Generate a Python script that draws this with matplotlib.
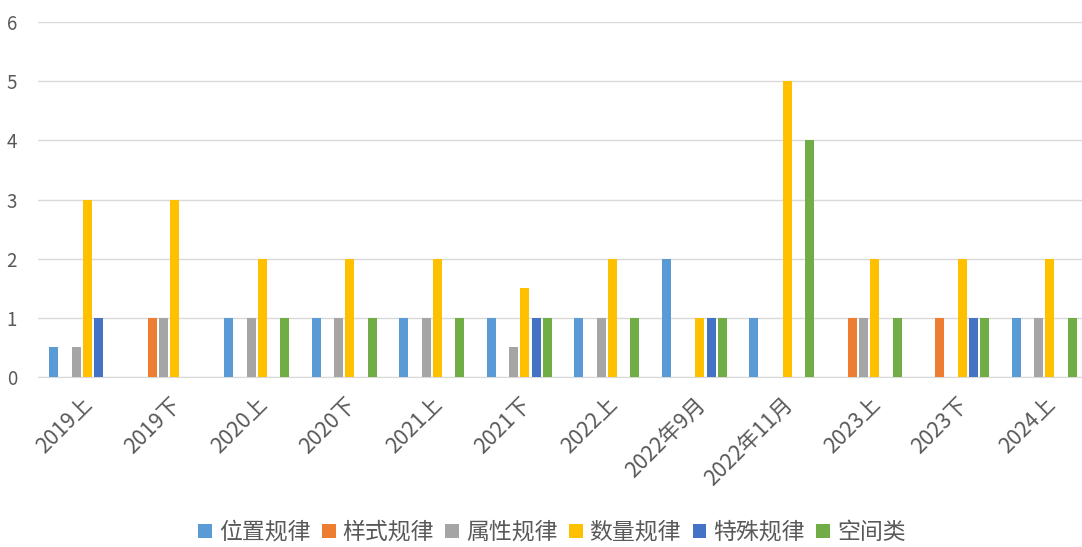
import matplotlib
matplotlib.use("Agg")
import matplotlib.pyplot as plt
import numpy as np

plt.rcParams["font.family"] = ["Noto Sans CJK SC", "DejaVu Sans"]

categories = ["2019上", "2019下", "2020上", "2020下", "2021上", "2021下",
              "2022上", "2022年9月", "2022年11月", "2023上", "2023下", "2024上"]
series_names = ["位置规律", "样式规律", "属性规律", "数量规律", "特殊规律", "空间类"]
weizhi = [0.5, 0, 1, 1, 1, 1, 1, 2, 1, 0, 0, 1]
yangshi = [0, 1, 0, 0, 0, 0, 0, 0, 0, 1, 1, 0]
shuxing = [0.5, 1, 1, 1, 1, 0.5, 1, 0, 0, 1, 0, 1]
shuliang = [3, 3, 2, 2, 2, 1.5, 2, 1, 5, 2, 2, 2]
teshu = [1, 0, 0, 0, 0, 1, 0, 1, 0, 0, 1, 0]
kongjian = [0, 0, 1, 1, 1, 1, 1, 1, 4, 1, 1, 1]
colors = ["#5B9BD5", "#ED7D31", "#A5A5A5", "#FFC000", "#4472C4", "#70AD47"]

W, H = 1082, 547
fig = plt.figure(figsize=(W / 100, H / 100), dpi=100)
ax = fig.add_axes([38 / W, (H - 377) / H, (1088 - 38) / W, (377 - 22) / H])

x = np.arange(len(categories))
step = 0.129
width = 0.103
for i, (vals, name, c) in enumerate(zip(
        [weizhi, yangshi, shuxing, shuliang, teshu, kongjian], series_names, colors)):
    ax.bar(x + (i - 2.5) * step, vals, width=width, color=c, label=name, zorder=3)

ax.set_xlim(-0.5, len(categories) - 0.5)
ax.set_ylim(0, 6)
ax.set_yticks(range(7))
ax.yaxis.grid(True, color="#D9D9D9", linewidth=1, zorder=0)
for s in ("top", "right", "left"):
    ax.spines[s].set_visible(False)
ax.spines["bottom"].set_color("#D9D9D9")
ax.tick_params(axis="both", length=0, colors="#595959")
ax.tick_params(axis="y", pad=15, labelsize=13.5)
ax.set_xticks(x)
ax.set_xticklabels(categories, rotation=45, ha="right", rotation_mode="anchor",
                   fontsize=15.5, fontweight="light")
ax.tick_params(axis="x", pad=12)

fig.legend(loc="lower center", bbox_to_anchor=(0.51, -0.032), ncol=6, frameon=False,
           handlelength=0.6, handleheight=0.6, handletextpad=0.3,
           columnspacing=0.5, labelcolor="#595959",
           prop={"size": 16.5, "weight": "light"})

fig.savefig("out.png", dpi=100)
